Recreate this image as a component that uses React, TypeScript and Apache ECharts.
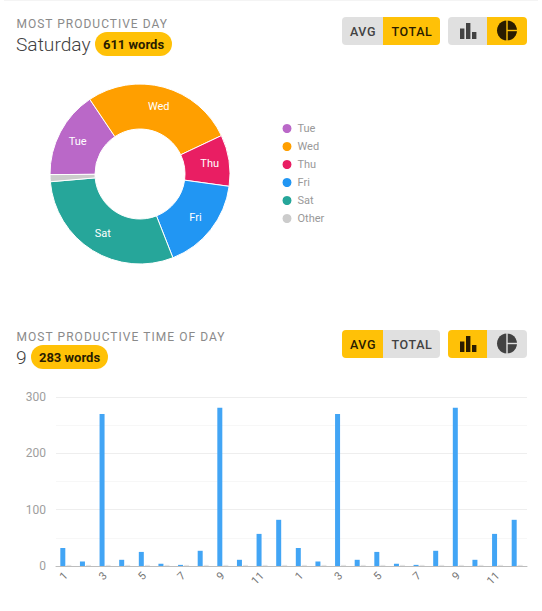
import React, { useEffect, useRef } from "react";
import * as echarts from "echarts";

const dayNames = ["Tue", "Wed", "Thu", "Fri", "Sat", "Other"];
const dayTotals = [324, 566, 190, 348, 611, 26];
const dayColors = ["#ba68c8", "#ff9f00", "#e91e63", "#2196f3", "#26a69a", "#cccccc"];

const hourLabels = ["1","2","3","4","5","6","7","8","9","10","11","12","1","2","3","4","5","6","7","8","9","10","11","12"];
const hourAvg = [32,8,270,11,25,4,2,27,281,11,57,82,32,8,270,11,25,4,2,27,281,11,57,82];
const hourOther = [2,2,2,2,2,2,2,2,2,2,2,2,2,2,2,2,2,2,2,2,2,2,2,2];

const AMBER = "#ffc107";
const GREY = "#e0e0e0";
const DARK_ON_AMBER = "#2a1c00";
const DARK_ON_GREY = "#424242";
const FONT = "Roboto";

function header(dy: number, title: string, headline: string, pillX: number, pill: string, avgOn: boolean, pieOn: boolean) {
  const seg = (x: number, w: number, on: boolean, r: number[]) => ({
    type: "rect", shape: { x, y: 17 + dy, width: w, height: 28, r },
    style: { fill: on ? AMBER : GREY }, silent: true,
  });
  const btn = (x: number, t: string, on: boolean) => ({
    type: "text", x, y: 31 + dy, silent: true,
    style: { text: t, fill: on ? DARK_ON_AMBER : DARK_ON_GREY, font: `500 12.5px ${FONT}`, align: "center", verticalAlign: "middle" },
  });
  const barCol = !pieOn ? DARK_ON_AMBER : DARK_ON_GREY;
  const pieCol = pieOn ? DARK_ON_AMBER : DARK_ON_GREY;
  const pieBg = pieOn ? AMBER : GREY;
  const bar = (x: number, top: number) => ({
    type: "rect", shape: { x, y: top + dy, width: 4.4, height: 39 - top }, style: { fill: barCol }, silent: true,
  });
  return [
    { type: "text", x: 16.5, y: 24 + dy, silent: true, style: { text: title, fill: "#8a8a8a", font: `400 12px ${FONT}`, verticalAlign: "middle" } },
    { type: "text", x: 16, y: 44.5 + dy, silent: true, style: { text: headline, fill: "#424242", font: `300 19.2px ${FONT}`, verticalAlign: "middle" } },
    { type: "rect", shape: { x: pillX, y: 32 + dy, width: 77, height: 24, r: 12 }, style: { fill: AMBER }, silent: true },
    { type: "text", x: pillX + 38.5, y: 44.5 + dy, silent: true, style: { text: pill, fill: "#2a1c00", font: `700 13px ${FONT}`, align: "center", verticalAlign: "middle" } },
    seg(342, 41, avgOn, [4, 0, 0, 4]),
    seg(383, 57, !avgOn, [0, 4, 4, 0]),
    btn(363, "AVG", avgOn),
    btn(412, "TOTAL", !avgOn),
    seg(448, 39, !pieOn, [4, 0, 0, 4]),
    seg(487, 40, pieOn, [0, 4, 4, 0]),
    bar(460, 28.5), bar(466, 23), bar(472, 32),
    { type: "circle", shape: { cx: 507, cy: 30.5 + dy, r: 10 }, style: { fill: pieCol }, silent: true },
    { type: "rect", shape: { x: 506.3, y: 20 + dy, width: 1.4, height: 21 }, style: { fill: pieBg }, silent: true },
    { type: "rect", shape: { x: 507, y: 29.8 + dy, width: 11, height: 1.4 }, style: { fill: pieBg }, silent: true },
  ];
}

export default function App() {
  const ref = useRef<HTMLDivElement>(null);
  useEffect(() => {
    const chart = echarts.init(ref.current!, undefined, { renderer: "svg", width: 542, height: 611 });
    chart.setOption({
      animation: false,
      backgroundColor: "#ffffff",
      textStyle: { fontFamily: FONT },
      color: dayColors,
      legend: {
        orient: "vertical", left: 275.5, top: 117, itemWidth: 11, itemHeight: 11, itemGap: 5, icon: "circle",
        data: dayNames, selectedMode: false,
        textStyle: { fontSize: 11, color: "#999999", fontFamily: FONT },
      },
      grid: { left: 56, right: 15, top: 397, bottom: 45, containLabel: false },
      xAxis: {
        type: "category", data: hourLabels,
        axisTick: { show: false },
        axisLine: { lineStyle: { color: "#bdbdbd", width: 1 } },
        axisLabel: { interval: 1, rotate: 45, fontSize: 11, color: "#757575", margin: 8 },
      },
      yAxis: {
        type: "value", min: 0, max: 300, interval: 100,
        axisLine: { show: false }, axisTick: { show: false },
        axisLabel: { fontSize: 12, color: "#9e9e9e", margin: 10 },
        splitLine: { lineStyle: { color: "#eeeeee", width: 1 } },
        minorTick: { show: false, splitNumber: 2 },
        minorSplitLine: { show: true, lineStyle: { color: "#f7f7f7", width: 1 } },
      },
      series: [
        {
          type: "pie", center: [140, 174], radius: [45, 90], startAngle: 180.4, clockwise: true,
          data: dayNames.map((n, i) => ({ name: n, value: dayTotals[i] })),
          itemStyle: { borderColor: "#ffffff", borderWidth: 1 },
          label: {
            position: "inside", color: "#ffffff", fontSize: 11, fontFamily: FONT,
            formatter: (p: any) => (p.name === "Other" ? "" : p.name),
          },
          labelLine: { show: false },
          emphasis: { disabled: true },
        },
        { type: "bar", data: hourAvg, barWidth: 5, barGap: "20%", itemStyle: { color: "#42a5f5" }, silent: true },
        { type: "bar", data: hourOther, barWidth: 5, itemStyle: { color: "#e6e6e6" }, silent: true },
      ],
      graphic: [
        { type: "line", shape: { x1: 4, y1: 0.5, x2: 538, y2: 0.5 }, style: { stroke: "#f4f4f4", lineWidth: 1 }, silent: true },
        ...header(0, "MOST PRODUCTIVE DAY", "Saturday", 95, "611 words", false, true),
        ...header(313, "MOST PRODUCTIVE TIME OF DAY", "9", 31, "283 words", true, false),
      ],
    });
    const spacing: Record<string, string> = {
      "MOST PRODUCTIVE DAY": "1",
      "MOST PRODUCTIVE TIME OF DAY": "1.05",
      AVG: "0.6",
      TOTAL: "0.6",
    };
    ref.current!.querySelectorAll("text").forEach((t) => {
      const s = spacing[t.textContent || ""];
      if (s) t.setAttribute("letter-spacing", s);
    });
    return () => chart.dispose();
  }, []);
  return <div ref={ref} style={{ position: "absolute", left: 0, top: 0, width: 542, height: 611 }} />;
}
